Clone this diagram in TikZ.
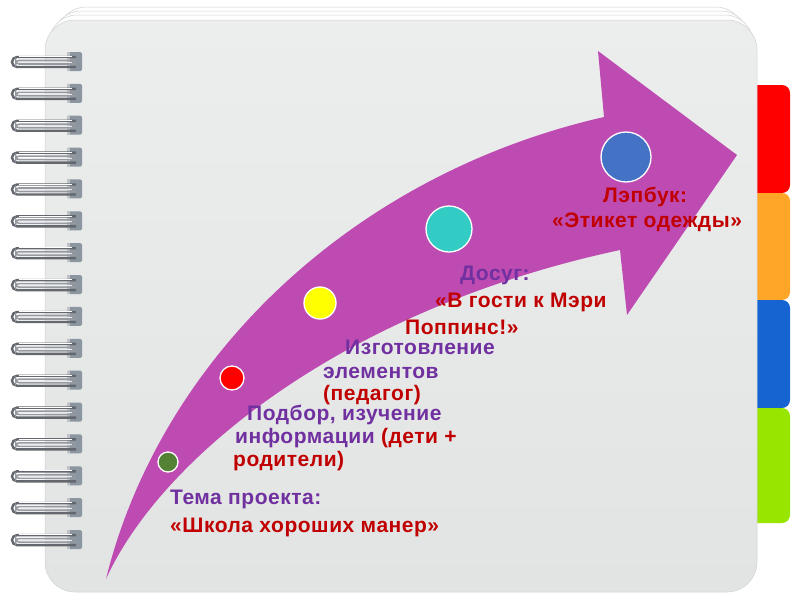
\documentclass[tikz,border=0pt]{standalone}
\usepackage{fontspec}
\setmainfont{Liberation Sans}[LetterSpace=2.5]
\definecolor{pagetop}{RGB}{236,237,237}
\definecolor{pagebot}{RGB}{226,228,228}
\definecolor{pageedge}{RGB}{208,210,211}
\definecolor{arrowmag}{RGB}{190,75,178}
\definecolor{txtpurple}{RGB}{112,48,160}
\definecolor{txtred}{RGB}{192,0,0}
\definecolor{tabred}{RGB}{255,0,0}
\definecolor{taborange}{RGB}{255,165,40}
\definecolor{tabblue}{RGB}{22,100,210}
\definecolor{tabgreen}{RGB}{152,230,0}
\definecolor{cgreen}{RGB}{84,130,53}
\definecolor{cred}{RGB}{255,0,0}
\definecolor{cyellow}{RGB}{255,255,0}
\definecolor{cteal}{RGB}{51,204,196}
\definecolor{cblue}{RGB}{68,114,196}
\definecolor{ringdark}{RGB}{100,104,110}
\definecolor{ringmid}{RGB}{150,154,160}
\definecolor{ringblock}{RGB}{140,150,160}
\begin{document}
\begin{tikzpicture}[x=1pt,y=-1pt,
  txt/.style={anchor=base west,inner sep=0pt,font=\fontsize{21}{25}\selectfont\bfseries},
  purpletxt/.style={txt,text=txtpurple},
  redtxt/.style={txt,text=txtred},
  dot/.style={circle,draw=white,line width=1.3pt,inner sep=0pt},
  tabbox/.style={rounded corners=8pt},
  backpage/.style={fill=white!95!pagetop,draw=pageedge,line width=0.5pt,rounded corners=28pt}]
\useasboundingbox (0,0) rectangle (800,600);
\fill[white] (0,0) rectangle (800,600);
% tabs
\fill[tabred,tabbox] (735,85) rectangle (790,193);
\fill[taborange,tabbox] (735,193) rectangle (790,300);
\fill[tabblue,tabbox] (735,300) rectangle (790,408);
\fill[tabgreen,tabbox] (735,408) rectangle (790,523);
% back pages
\path[backpage] (58,7) rectangle (744,300);
\path[backpage] (53,11) rectangle (749,300);
\path[backpage] (49,15) rectangle (753,300);
% page
\shade[top color=pagetop,bottom color=pagebot,rounded corners=30pt] (45,20) rectangle (757,592);
\draw[pageedge,line width=0.5pt,rounded corners=30pt] (45,20) rectangle (757,592);
% rings
\foreach \k in {0,...,15}{
  \pgfmathsetmacro\yy{62+\k*31.87}
  \fill[ringblock,rounded corners=1.5pt] (67,\yy-10) rectangle (82,\yy+9);
  \fill[ringmid!60!white] (67,\yy-10) rectangle (70,\yy+9);
  \draw[ringdark,line width=2.4pt,rounded corners=5pt] (76,\yy-5) -- (12,\yy-5) -- (12,\yy+5) -- (76,\yy+5);
  \draw[ringmid,line width=1.6pt,rounded corners=3pt] (76,\yy-1.5) -- (16,\yy-1.5) -- (16,\yy+2) -- (76,\yy+2);
  \draw[white,line width=0.7pt] (19,\yy-5.5) -- (72,\yy-5.5);
  \draw[white!80!ringmid,line width=0.6pt] (19,\yy+0.2) -- (72,\yy+0.2);
}
% arrow
\fill[arrowmag] (106,579) .. controls (160,360) and (350,175) .. (604,117)
  -- (598,51) -- (737,155) -- (627,315) -- (620,250)
  .. controls (340,310) and (160,460) .. (106,579) -- cycle;
% circles
\node[dot,fill=cgreen,minimum size=20pt] (c1) at (168,462) {};
\node[dot,fill=cred,minimum size=24pt] (c2) at (232,378) {};
\node[dot,fill=cyellow,minimum size=32pt] (c3) at (320,303) {};
\node[dot,fill=cteal,minimum size=46pt] (c4) at (449,229) {};
\node[dot,fill=cblue,minimum size=50pt] (c5) at (626,157) {};
% texts
\node[redtxt] (t1) at (603,202) {Лэпбук:};
\node[redtxt] (t2) at (552,227) {«Этикет одежды»};
\node[purpletxt] (t3) at (460,280) {Досуг:};
\node[redtxt] (t4) at (435,307) {«В гости к Мэри};
\node[redtxt] (t5) at (405,334) {Поппинс!»};
\node[purpletxt] (t6) at (345,354) {Изготовление};
\node[purpletxt] (t7) at (323,378) {элементов};
\node[redtxt] (t8) at (323,400) {(педагог)};
\node[purpletxt] (t9) at (247,420) {Подбор, изучение};
\node[purpletxt] (t10) at (235,443) {информации \textcolor{txtred}{(дети +}};
\node[redtxt] (t11) at (233,466) {родители)};
\node[purpletxt] (t12) at (170,504) {Тема проекта:};
\node[redtxt] (t13) at (170,532) {«Школа хороших манер»};
\end{tikzpicture}
\end{document}
